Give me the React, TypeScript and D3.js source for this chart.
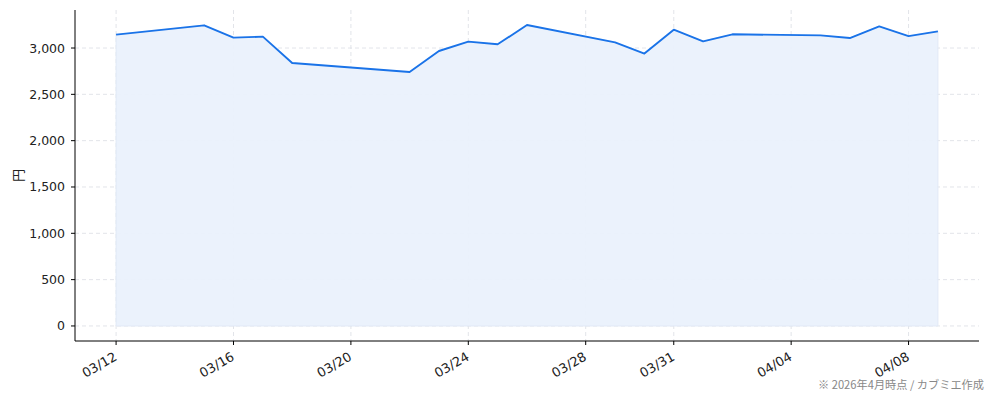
import React, { useEffect } from "react";
import * as d3 from "d3";

const dates = [
  "2026-03-12", "2026-03-15", "2026-03-16", "2026-03-17", "2026-03-18",
  "2026-03-22", "2026-03-23", "2026-03-24", "2026-03-25", "2026-03-26",
  "2026-03-29", "2026-03-30", "2026-03-31", "2026-04-01", "2026-04-02",
  "2026-04-05", "2026-04-06", "2026-04-07", "2026-04-08", "2026-04-09",
];
const prices = [
  3144, 3245, 3112, 3123, 2838,
  2741, 2968, 3069, 3040, 3248,
  3061, 2940, 3198, 3072, 3148,
  3137, 3108, 3234, 3129, 3180,
];
const xTickDates = [
  "2026-03-12", "2026-03-16", "2026-03-20", "2026-03-24",
  "2026-03-28", "2026-03-31", "2026-04-04", "2026-04-08",
];
const yTicks = [0, 500, 1000, 1500, 2000, 2500, 3000];
const yLabel = "円";
const footnote = "※ 2026年4月時点 / カブミエ作成";

const W = 994;
const H = 401;
const M = { left: 75, right: 15, top: 10, bottom: 60 };
const FONT = "'DejaVu Sans', 'Noto Sans CJK JP', sans-serif";
const CJK = "'Noto Sans CJK JP', sans-serif";

const parse = (s: string) => {
  const [y, m, d] = s.split("-").map(Number);
  return new Date(Date.UTC(y, m - 1, d));
};

export default function App() {
  useEffect(() => {
    document.body.style.margin = "0";
  }, []);

  const data = dates.map((d, i) => ({ date: parse(d), value: prices[i] }));
  const dMin = data[0].date.getTime();
  const dMax = data[data.length - 1].date.getTime();
  const dPad = (dMax - dMin) * 0.05;
  const vMax = d3.max(prices) as number;
  const vPad = vMax * 0.05;

  const x = d3
    .scaleUtc()
    .domain([new Date(dMin - dPad), new Date(dMax + dPad)])
    .range([M.left, W - M.right]);
  const y = d3
    .scaleLinear()
    .domain([-vPad, vMax + vPad])
    .range([H - M.bottom, M.top]);

  const line = d3
    .line<{ date: Date; value: number }>()
    .x((d) => x(d.date))
    .y((d) => y(d.value));
  const area = d3
    .area<{ date: Date; value: number }>()
    .x((d) => x(d.date))
    .y0(() => y(0))
    .y1((d) => y(d.value));

  const fmt = d3.utcFormat("%m/%d");
  const fmtY = d3.format(",");
  const x0 = M.left;
  const x1 = W - M.right;
  const yTop = M.top;
  const yBot = H - M.bottom;

  return (
    <svg width={W} height={H} style={{ display: "block", background: "#fff" }}>
      {yTicks.map((t) => (
        <line
          key={"gy" + t}
          x1={x0}
          x2={x1}
          y1={y(t)}
          y2={y(t)}
          stroke="#dfe1e6"
          strokeWidth={0.9}
          strokeDasharray="4,3"
        />
      ))}
      {xTickDates.map((s) => (
        <line
          key={"gx" + s}
          x1={x(parse(s))}
          x2={x(parse(s))}
          y1={yTop}
          y2={yBot}
          stroke="#dfe1e6"
          strokeWidth={0.9}
          strokeDasharray="4,3"
        />
      ))}
      <path d={area(data) as string} fill="#eaf1fc" fillOpacity={0.95} stroke="#e1e9f6" strokeWidth={1} />
      <path d={line(data) as string} fill="none" stroke="#1a73e8" strokeWidth={1.9} strokeLinejoin="round" />
      <line x1={x0} x2={x0} y1={yTop} y2={yBot} stroke="#000" strokeWidth={1} />
      <line x1={x0} x2={x1} y1={yBot} y2={yBot} stroke="#000" strokeWidth={1} />
      {yTicks.map((t) => (
        <g key={"yt" + t}>
          <line x1={x0 - 4} x2={x0} y1={y(t)} y2={y(t)} stroke="#000" strokeWidth={1} />
          <text
            x={x0 - 10}
            y={y(t)}
            textAnchor="end"
            dominantBaseline="central"
            fontFamily={FONT}
            fontSize={12.5}
            fill="#222"
          >
            {fmtY(t)}
          </text>
        </g>
      ))}
      {xTickDates.map((s) => {
        const px = x(parse(s));
        return (
          <g key={"xt" + s}>
            <line x1={px} x2={px} y1={yBot} y2={yBot + 4} stroke="#000" strokeWidth={1} />
            <text
              transform={`translate(${px - 3},${yBot + 10}) rotate(-30)`}
              textAnchor="end"
              dominantBaseline="hanging"
              fontFamily={FONT}
              fontSize={13}
              fill="#222"
            >
              {fmt(parse(s))}
            </text>
          </g>
        );
      })}
      <text
        transform={`translate(17,${(yTop + yBot) / 2}) rotate(-90)`}
        textAnchor="middle"
        dominantBaseline="central"
        fontFamily={CJK}
        fontSize={13}
        fill="#222"
      >
        {yLabel}
      </text>
      <text x={984} y={389} textAnchor="end" fontFamily={CJK} fontSize={11.2} fill="#888">
        {footnote}
      </text>
    </svg>
  );
}
